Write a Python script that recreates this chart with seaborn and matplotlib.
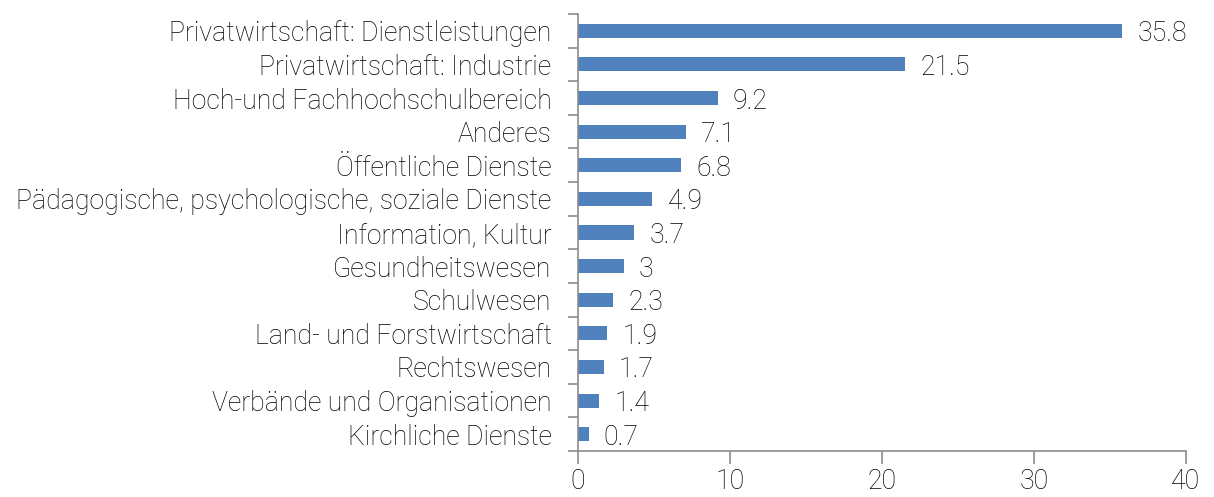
import numpy as np
import pandas as pd
import matplotlib
matplotlib.use("Agg")
import matplotlib.pyplot as plt
import seaborn as sns

# ---------------------------
# Data
# ---------------------------
categories = [
    "Privatwirtschaft: Dienstleistungen",
    "Privatwirtschaft: Industrie",
    "Hoch-und Fachhochschulbereich",
    "Anderes",
    "Öffentliche Dienste",
    "Pädagogische, psychologische, soziale Dienste",
    "Information, Kultur",
    "Gesundheitswesen",
    "Schulwesen",
    "Land- und Forstwirtschaft",
    "Rechtswesen",
    "Verbände und Organisationen",
    "Kirchliche Dienste",
]
values = [35.8, 21.5, 9.2, 7.1, 6.8, 4.9, 3.7, 3, 2.3, 1.9, 1.7, 1.4, 0.7]
value_labels = ["35.8", "21.5", "9.2", "7.1", "6.8", "4.9", "3.7", "3", "2.3", "1.9", "1.7", "1.4", "0.7"]
x_ticks = [0, 10, 20, 30, 40]

df = pd.DataFrame({"category": categories, "value": values})

# ---------------------------
# Style
# ---------------------------
sns.set_style("white")
plt.rcParams["font.family"] = ["Roboto", "DejaVu Sans"]
plt.rcParams["font.weight"] = "light"
text_color = "#000000"
axis_color = "#8c8c8c"
bar_color = "#4F81BD"
fs = 19.2

fig = plt.figure(figsize=(12.14, 4.97), dpi=100)
ax = fig.add_axes([578 / 1214, 1 - 451 / 497, (1186 - 578) / 1214, (451 - 14) / 497])

sns.barplot(data=df, x="value", y="category", orient="h", color=bar_color,
            width=0.42, saturation=1, linewidth=0, ax=ax)

for i, (v, lab) in enumerate(zip(values, value_labels)):
    ax.text(v + 1.0, i, lab, va="center_baseline", ha="left", fontsize=fs,
            color=text_color, fontweight="light")

ax.set_xlim(0, 40)
ax.set_ylim(len(categories) - 0.5, -0.5)
ax.set_xticks(x_ticks)
ax.set_xticklabels([str(t) for t in x_ticks], fontsize=fs, color=text_color, fontweight="light")
ax.set_yticks(range(len(categories)))
ax.set_yticklabels(categories, fontsize=fs, color=text_color, fontweight="light")
ax.set_yticks(np.arange(-0.5, len(categories), 1), minor=True)
ax.tick_params(axis="y", which="major", left=True, length=0, pad=19)
ax.tick_params(axis="y", which="minor", left=True, length=7, width=1.2, color=axis_color, direction="out")
ax.tick_params(axis="x", which="major", bottom=True, length=9, width=1.2, color=axis_color, direction="out", pad=3)
ax.set_xlabel("")
ax.set_ylabel("")

for side in ["top", "right"]:
    ax.spines[side].set_visible(False)
for side in ["left", "bottom"]:
    ax.spines[side].set_color(axis_color)
    ax.spines[side].set_linewidth(1.2)

fig.savefig("out.png", dpi=100)
